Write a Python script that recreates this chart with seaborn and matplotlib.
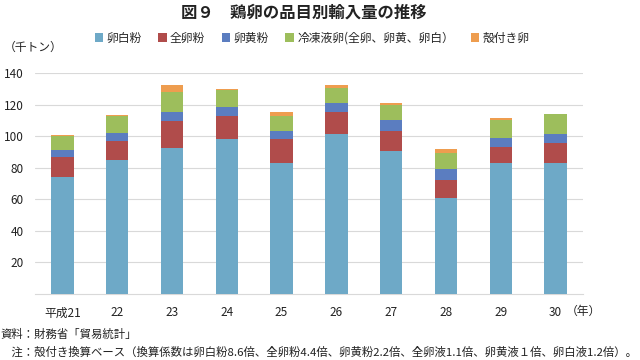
import numpy as np
import pandas as pd
import matplotlib
matplotlib.use("Agg")
import matplotlib.pyplot as plt
from matplotlib.patches import Patch
import seaborn as sns

years = ["平成21", "22", "23", "24", "25", "26", "27", "28", "29", "30"]
series_names = ["卵白粉", "全卵粉", "卵黄粉", "冷凍液卵(全卵、卵黄、卵白）", "殻付き卵"]
egg_white_powder = [74.2, 84.8, 92.2, 97.9, 83.1, 101.1, 90.7, 60.6, 82.7, 82.7]
whole_egg_powder = [12.6, 12.0, 17.5, 15.0, 14.8, 14.3, 12.5, 11.6, 10.5, 12.7]
yolk_powder = [4.7, 5.3, 5.3, 5.3, 5.5, 5.3, 6.9, 6.7, 5.7, 5.9]
frozen_liquid = [8.6, 10.6, 12.8, 11.3, 9.5, 9.5, 9.5, 10.2, 11.2, 12.6]
shell_egg = [0.4, 0.5, 4.9, 0.6, 2.1, 2.5, 1.5, 2.5, 1.7, 0.3]

colors = ["#6EA9C7", "#B04C4B", "#5B7DC0", "#9DBE5C", "#EE9D4F"]

sns.set_style("white")
plt.rcParams["font.family"] = ["Noto Sans CJK JP", "DejaVu Sans"]

fig = plt.figure(figsize=(6.4, 3.6), dpi=100)
ax = fig.add_axes([35 / 640, 1 - 294 / 360, 548 / 640, 221 / 360])

series = [egg_white_powder, whole_egg_powder, yolk_powder, frozen_liquid, shell_egg]
bottom = np.zeros(len(years))
for name, vals, c in zip(series_names, series, colors):
    df = pd.DataFrame({"year": years, "value": vals})
    sns.barplot(data=df, x="year", y="value", color=c, width=0.41,
                bottom=bottom.copy(), ax=ax, saturation=1, linewidth=0,
                zorder=3)
    bottom += np.array(vals)

ax.set_xlim(-0.5, 9.5)
ax.set_ylim(0, 140)
ax.set_yticks([20, 40, 60, 80, 100, 120, 140])
ax.yaxis.grid(True, color="#D9D9D9", linewidth=0.8, zorder=0)
ax.set_axisbelow(True)
for s in ["top", "right", "left"]:
    ax.spines[s].set_visible(False)
ax.spines["bottom"].set_color("#D9D9D9")
ax.spines["bottom"].set_linewidth(0.8)
ax.tick_params(axis="both", length=0, labelsize=8.5, colors="#222222")
ax.tick_params(axis="x", pad=9)
ax.tick_params(axis="y", pad=8)
ax.set_xlabel("")
ax.set_ylabel("")

fig.text(304 / 640, 1 - 13 / 360, "図９　鶏卵の品目別輸入量の推移", ha="center", va="center",
         fontsize=11.8, fontweight="bold", color="#222222")
fig.text(4 / 640, 1 - 47 / 360, "（千トン）", ha="left", va="center",
         fontsize=8.5, color="#222222")
fig.text(566 / 640, 1 - 311 / 360, "（年）", ha="left", va="center",
         fontsize=8.5, color="#222222")

handles = [Patch(facecolor=c, edgecolor="none") for c in colors]
fig.legend(handles, series_names, loc="center", bbox_to_anchor=(312 / 640, 1 - 38 / 360),
           ncol=5, frameon=False, fontsize=8.5, handlelength=0.7, handleheight=0.7,
           handletextpad=0.3, columnspacing=1.4)

fig.text(0, 1 - 334 / 360, "資料：財務省「貿易統計」", ha="left", va="center",
         fontsize=8.2, color="#222222")
fig.text(0, 1 - 352 / 360,
         "　注：殻付き換算ベース（換算係数は卵白粉8.6倍、全卵粉4.4倍、卵黄粉2.2倍、全卵液1.1倍、卵黄液１倍、卵白液1.2倍）。",
         ha="left", va="center", fontsize=8.2, color="#222222")

fig.savefig("out.png", dpi=100)
